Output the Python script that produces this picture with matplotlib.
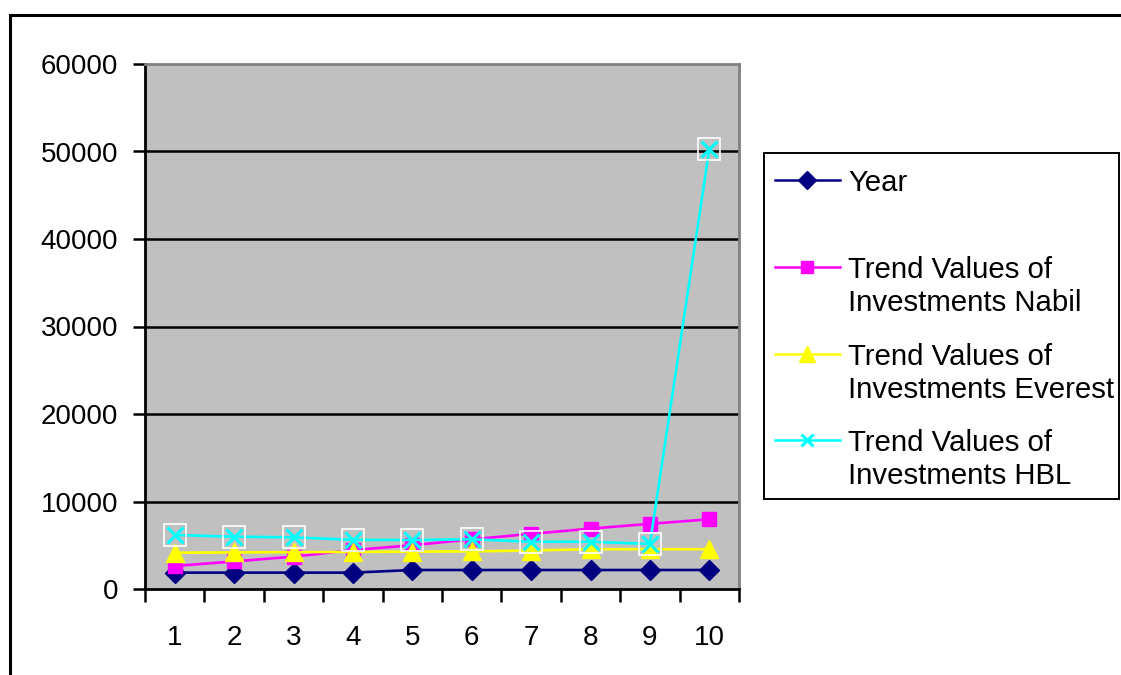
import matplotlib
matplotlib.use("Agg")
import matplotlib.pyplot as plt
from matplotlib.lines import Line2D
from matplotlib.patches import Rectangle

plt.rcParams['font.family'] = ['Liberation Sans', 'DejaVu Sans']

# data
periods = [1, 2, 3, 4, 5, 6, 7, 8, 9, 10]
year = [1870, 1870, 1870, 1870, 2170, 2170, 2170, 2170, 2170, 2170]
nabil = [2630, 3150, 3700, 4450, 5000, 5680, 6300, 6900, 7450, 7970]
everest = [4150, 4180, 4210, 4240, 4270, 4300, 4400, 4550, 4550, 4550]
hbl = [6170, 5980, 5900, 5620, 5600, 5680, 5400, 5400, 5150, 50250]
names = ["Year",
         "Trend Values of\nInvestments Nabil",
         "Trend Values of\nInvestments Everest",
         "Trend Values of\nInvestments HBL"]
yticks = [0, 10000, 20000, 30000, 40000, 50000, 60000]

styles = [
    dict(color="#000080", marker="D", markersize=10.5),
    dict(color="#FF00FF", marker="s", markersize=10.5),
    dict(color="#FFFF00", marker="^", markersize=13),
    dict(color="#00FFFF", marker="x", markersize=11, markeredgewidth=2.2),
]

W, H = 1121, 675
fig = plt.figure(figsize=(W / 100, H / 100), dpi=100)
ax = fig.add_axes([145 / W, 1 - 589 / H, (739 - 145) / W, (589 - 64) / H])
ax.set_facecolor("#C0C0C0")

series = [year, nabil, everest, hbl]
for vals, st in zip(series, styles):
    ax.plot(periods, vals, linewidth=1.9, zorder=3, **st)
# white boxes round the HBL crosses
ax.plot(periods, hbl, linestyle="none", marker="s", markersize=15.5,
        markerfacecolor="none", markeredgecolor="white",
        markeredgewidth=1.2, zorder=4)

ax.set_xlim(0.5, 10.5)
ax.set_ylim(0, 60000)
ax.set_yticks(yticks)
ax.set_yticklabels([str(v) for v in yticks])
for v in yticks[1:-1]:
    ax.axhline(v, color="black", linewidth=1.8, zorder=1)

ax.set_xticks([p + 0.5 for p in [0] + periods])
ax.set_xticklabels([])
ax.set_xticks(periods, minor=True)
ax.set_xticklabels([str(p) for p in periods], minor=True)
ax.tick_params(axis="x", which="major", direction="out", length=9, width=1.8)
ax.tick_params(axis="x", which="minor", length=0, pad=26, labelsize=20)
ax.tick_params(axis="y", direction="out", length=9, width=1.8, pad=10.5,
               labelsize=20)

for side in ["left", "bottom"]:
    ax.spines[side].set_color("black")
    ax.spines[side].set_linewidth(2)
for side in ["top", "right"]:
    ax.spines[side].set_color("#808080")
    ax.spines[side].set_linewidth(2)

# legend box, drawn by hand so each marker sits on the first text line
fig.patches.append(Rectangle((764 / W, 1 - 499 / H), (1119 - 764) / W,
                             (499 - 153) / H, transform=fig.transFigure,
                             fill=False, edgecolor="black", linewidth=1.4))
rows = [180, 267, 354, 440]
for name, st, yy in zip(names, styles, rows):
    fy = 1 - yy / H
    fig.lines.append(Line2D([775 / W, 840 / W], [fy, fy],
                            transform=fig.transFigure, linewidth=1.8,
                            color=st["color"]))
    ms = dict(st)
    ms["markersize"] = st["markersize"] * 0.85
    fig.lines.append(Line2D([807 / W], [fy], transform=fig.transFigure,
                            linestyle="none", **ms))
    for i, line in enumerate(name.split("\n")):
        fig.text(848 / W, 1 - (yy + 11 + 33 * i) / H, line, fontsize=21.2,
                 ha="left", va="baseline", transform=fig.transFigure)

# outer chart frame
fig.patches.append(Rectangle((10 / W, -0.2), 1.2, 1.2 - 15 / H,
                             transform=fig.transFigure, fill=False,
                             edgecolor="black", linewidth=2.2))

fig.savefig("out.png", dpi=100)
